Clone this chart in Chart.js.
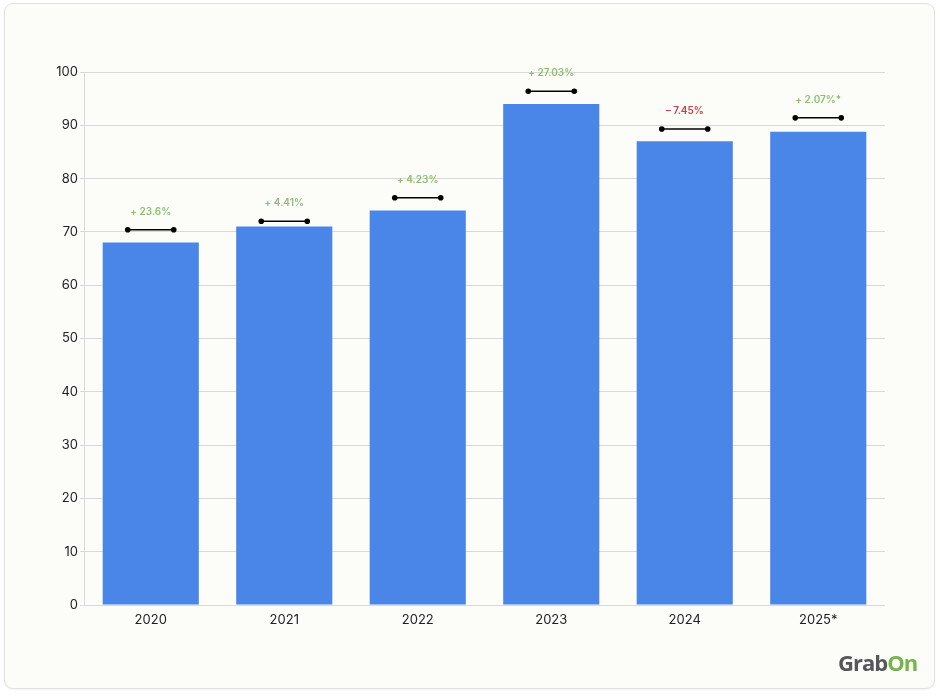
<!DOCTYPE html>
<html>
<head>
<meta charset="utf-8">
<script src="https://cdn.jsdelivr.net/npm/chart.js@4.4.1/dist/chart.umd.min.js"></script>
<style>
  html, body { margin: 0; padding: 0; background: #ffffff; }
  #card {
    position: absolute; left: 4px; top: 3px; width: 929px; height: 684px;
    background: #fcfdf9; border: 1px solid #e2e3df; border-radius: 9px;
    box-shadow: 0 1px 2px rgba(0,0,0,0.06);
  }
  #wrap { position: absolute; left: 0; top: 0; width: 940px; height: 698px; }
  #logo {
    position: absolute; left: 838px; top: 647px; font-family: "Open Sans", "Noto Sans", sans-serif;
    font-weight: 700; font-size: 22px; letter-spacing: -1px;
  }
  #logo .g { color: #555759; }
  #logo .o { color: #76b54a; }
</style>
</head>
<body>
<div id="card"></div>
<div id="wrap"><canvas id="c" width="940" height="698"></canvas></div>
<div id="logo"><span class="g">Grab</span><span class="o">On</span></div>
<script>
const categories = ["2020", "2021", "2022", "2023", "2024", "2025*"];
const values = [68, 71, 74, 94, 87, 88.8];
const markerValues = [70.4, 72.0, 76.4, 96.4, 89.3, 91.4];
const changeLabels = ["+ 23.6%", "+ 4.41%", "+ 4.23%", "+ 27.03%", "\u2013 7.45%", "+ 2.07%*"];
const changeColors = ["#8fbd6f", "#8fbd6f", "#8fbd6f", "#8fbd6f", "#cf3a43", "#8fbd6f"];
const yTicks = [0, 10, 20, 30, 40, 50, 60, 70, 80, 90, 100];

const markerPlugin = {
  id: 'markers',
  afterDatasetsDraw(chart) {
    const ctx = chart.ctx;
    const xs = chart.scales.x, ys = chart.scales.y;
    ctx.save();
    markerValues.forEach((v, i) => {
      const cx = xs.getPixelForValue(i);
      const y = ys.getPixelForValue(v);
      const half = 23;
      ctx.strokeStyle = '#000';
      ctx.lineWidth = 1.5;
      ctx.beginPath();
      ctx.moveTo(cx - half, y);
      ctx.lineTo(cx + half, y);
      ctx.stroke();
      ctx.fillStyle = '#000';
      [cx - half, cx + half].forEach(px => {
        ctx.beginPath();
        ctx.arc(px, y, 2.8, 0, Math.PI * 2);
        ctx.fill();
      });
      ctx.font = '600 10px Inter, sans-serif';
      ctx.fillStyle = changeColors[i];
      ctx.textAlign = 'center';
      ctx.textBaseline = 'middle';
      ctx.fillText(changeLabels[i], cx, y - 18);
    });
    ctx.restore();
  }
};

new Chart(document.getElementById('c'), {
  type: 'bar',
  data: {
    labels: categories,
    datasets: [{
      data: values,
      backgroundColor: '#4a86e8',
      borderWidth: 0,
      categoryPercentage: 1.0,
      barPercentage: 0.72
    }]
  },
  options: {
    responsive: false,
    animation: false,
    devicePixelRatio: 1,
    layout: { padding: { left: 36, top: 72, right: 55, bottom: 63 } },
    plugins: { legend: { display: false }, tooltip: { enabled: false } },
    scales: {
      x: {
        grid: { display: false, drawTicks: false },
        border: { display: false },
        ticks: { color: '#222', font: { family: 'Inter, sans-serif', size: 13 }, padding: 7 },
        afterFit(s) { s.height = 30; }
      },
      y: {
        min: 0, max: 100,
        afterBuildTicks(s) { s.ticks = yTicks.map(v => ({ value: v })); },
        grid: { color: '#d9d9d9', lineWidth: 1, tickLength: 4, drawTicks: true },
        border: { display: true, color: '#d9d9d9' },
        ticks: { color: '#222', font: { family: 'Inter, sans-serif', size: 13 }, padding: 2 },
        afterFit(s) { s.width = 48; }
      }
    }
  },
  plugins: [markerPlugin]
});
</script>
</body>
</html>
